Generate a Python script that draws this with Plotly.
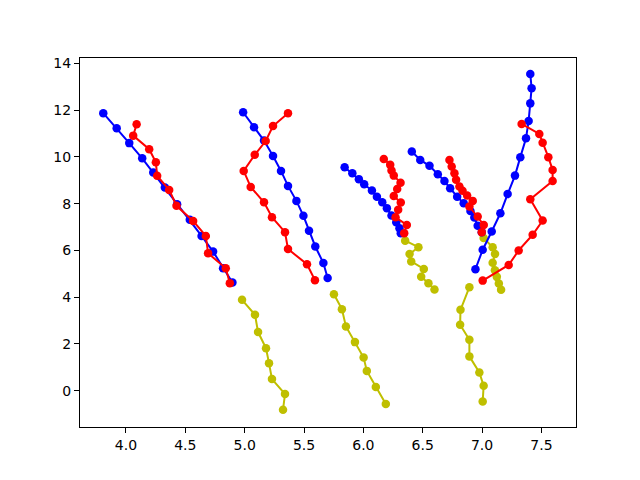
import plotly.graph_objects as go

# Blue paths
blue1_x = [3.809, 3.922, 4.028, 4.137, 4.230, 4.328, 4.431, 4.538, 4.637, 4.734, 4.818, 4.897]
blue1_y = [11.87, 11.23, 10.59, 9.94, 9.33, 8.69, 7.98, 7.31, 6.62, 5.95, 5.24, 4.63]
blue2_x = [4.987, 5.079, 5.163, 5.239, 5.306, 5.365, 5.436, 5.495, 5.542, 5.595, 5.663, 5.699]
blue2_y = [11.91, 11.27, 10.70, 10.04, 9.40, 8.76, 8.12, 7.48, 6.84, 6.17, 5.46, 4.82]
blue3_x = [5.842, 5.907, 5.962, 6.007, 6.072, 6.114, 6.159, 6.198, 6.237, 6.277, 6.304, 6.315]
blue3_y = [9.56, 9.30, 9.05, 8.83, 8.56, 8.30, 8.06, 7.81, 7.49, 7.21, 6.95, 6.74]
blue4_x = [6.408, 6.479, 6.557, 6.627, 6.683, 6.731, 6.790, 6.845, 6.902, 6.935, 6.963, 6.997]
blue4_y = [10.23, 9.87, 9.62, 9.26, 8.97, 8.66, 8.30, 8.02, 7.69, 7.41, 7.06, 6.78]
blue5_x = [6.944, 7.005, 7.081, 7.154, 7.215, 7.277, 7.322, 7.370, 7.392, 7.406, 7.417, 7.406]
blue5_y = [5.20, 6.03, 6.81, 7.59, 8.41, 9.20, 9.99, 10.80, 11.54, 12.29, 12.94, 13.55]

# Red paths
red1_x = [4.090, 4.061, 4.196, 4.252, 4.263, 4.364, 4.426, 4.566, 4.673, 4.692, 4.841, 4.875]
red1_y = [11.40, 10.91, 10.33, 9.77, 9.19, 8.59, 7.91, 7.26, 6.62, 5.88, 5.24, 4.60]
red2_x = [5.365, 5.239, 5.177, 5.085, 4.992, 5.051, 5.163, 5.230, 5.340, 5.365, 5.525, 5.592]
red2_y = [11.87, 11.32, 10.68, 10.09, 9.40, 8.71, 8.06, 7.42, 6.78, 6.06, 5.41, 4.73]
red3_x = [6.172, 6.226, 6.237, 6.256, 6.313, 6.285, 6.256, 6.315, 6.293, 6.271, 6.366, 6.344]
red3_y = [9.91, 9.66, 9.42, 9.20, 8.90, 8.63, 8.33, 8.05, 7.74, 7.42, 7.09, 6.74]
red4_x = [6.725, 6.744, 6.767, 6.781, 6.809, 6.835, 6.874, 6.921, 6.893, 6.963, 7.014, 6.997]
red4_y = [9.87, 9.59, 9.30, 9.02, 8.73, 8.55, 8.35, 8.12, 7.88, 7.45, 7.09, 6.78]
red5_x = [7.005, 7.224, 7.308, 7.426, 7.510, 7.406, 7.594, 7.594, 7.558, 7.510, 7.482, 7.333]
red5_y = [4.71, 5.38, 6.00, 6.67, 7.28, 8.19, 8.97, 9.44, 9.99, 10.61, 10.98, 11.41]

# Yellow paths
yel1_x = [4.978, 5.087, 5.113, 5.180, 5.205, 5.230, 5.340, 5.323]
yel1_y = [3.89, 3.25, 2.51, 1.82, 1.18, 0.50, -0.14, -0.81]
yel2_x = [5.752, 5.819, 5.853, 5.929, 6.002, 6.029, 6.105, 6.189]
yel2_y = [4.13, 3.49, 2.75, 2.08, 1.42, 0.85, 0.16, -0.57]
yel3_x = [6.352, 6.464, 6.389, 6.403, 6.509, 6.487, 6.548, 6.599]
yel3_y = [6.42, 6.14, 5.85, 5.53, 5.21, 4.88, 4.60, 4.33]
yel4_x = [7.013, 7.089, 7.109, 7.089, 7.108, 7.124, 7.141, 7.160]
yel4_y = [6.53, 6.14, 5.85, 5.47, 5.15, 4.87, 4.59, 4.32]
yel5_x = [6.893, 6.818, 6.815, 6.893, 6.893, 6.977, 7.013, 7.005]
yel5_y = [4.43, 3.46, 2.82, 2.18, 1.47, 0.78, 0.21, -0.46]

BLUE = "#0000ff"
RED = "#ff0000"
YEL = "#bfbf00"

paths = [
    (yel1_x, yel1_y, YEL), (yel2_x, yel2_y, YEL), (yel3_x, yel3_y, YEL),
    (yel4_x, yel4_y, YEL), (yel5_x, yel5_y, YEL),
    (blue1_x, blue1_y, BLUE), (red1_x, red1_y, RED),
    (blue2_x, blue2_y, BLUE), (red2_x, red2_y, RED),
    (blue3_x, blue3_y, BLUE), (red3_x, red3_y, RED),
    (blue4_x, blue4_y, BLUE), (red4_x, red4_y, RED),
    (blue5_x, blue5_y, BLUE), (red5_x, red5_y, RED),
]

fig = go.Figure()
for xs, ys, c in paths:
    fig.add_trace(go.Scatter(
        x=xs, y=ys, mode="lines+markers",
        line=dict(color=c, width=2),
        marker=dict(color=c, size=8.5, line=dict(width=0)),
        showlegend=False, hoverinfo="skip",
    ))

axis_common = dict(
    showgrid=False, zeroline=False, showline=True, linecolor="black",
    linewidth=1, mirror=True, ticks="outside", ticklen=5, tickwidth=1,
    tickcolor="black", automargin=False,
    tickfont=dict(family="DejaVu Sans", size=14, color="black"),
)
fig.update_xaxes(range=[3.613, 7.791], dtick=0.5, tick0=4.0, tickformat=".1f", **axis_common)
fig.update_yaxes(range=[-1.55, 14.23], dtick=2, tick0=0, **axis_common)

fig.update_layout(
    width=640, height=480,
    margin=dict(l=72, r=72, t=50, b=61, pad=0),
    paper_bgcolor="white", plot_bgcolor="white",
    font=dict(family="DejaVu Sans", size=14, color="black"),
)

fig.write_html("out.html")
